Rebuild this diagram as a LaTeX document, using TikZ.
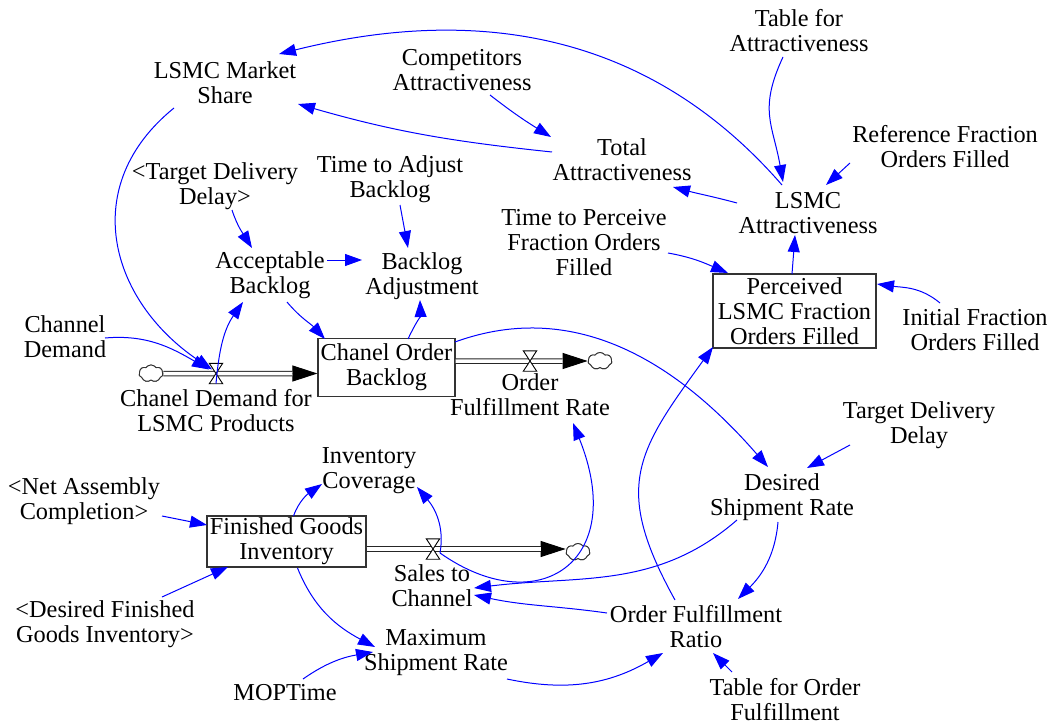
\documentclass[tikz,border=0pt]{standalone}
\usepackage{fontspec}
\setmainfont{Liberation Serif}
\usetikzlibrary{arrows.meta,shapes.symbols}

\begin{document}
\begin{tikzpicture}[x=1pt,y=1pt,
  var/.style={align=center, inner sep=0pt, font=\fontsize{24.3}{25}\selectfont},
  stock/.style={var, draw=black!80, line width=1.2pt, fill=white},
  conn/.style={draw=blue, line width=1pt, -{Triangle[length=17pt,width=12pt]}},
  pipe/.style={draw=black!85, double=white, double distance=3.5pt, line width=1pt},
  pipehead/.style={draw=black, line width=1pt, -{Triangle[length=25pt,width=16pt]}},
  valvebox/.style={minimum width=13pt, minimum height=20pt, inner sep=0pt},
  valveline/.style={draw=black, line width=0.9pt, fill=white},
  sky/.style={cloud, cloud puffs=7, cloud puff arc=110, aspect=1.4, draw=black!80,
    fill=white, line width=0.9pt, minimum width=24pt, minimum height=17pt, inner sep=0pt}
]
\useasboundingbox (0,0) rectangle (1056,-727);
\fill[white] (0,0) rectangle (1056,-727);

% auxiliaries and constants
\node[var] (ms)   at (225,-83)  {LSMC Market\\Share};
\node[var] (comp) at (462,-70)  {Competitors\\Attractiveness};
\node[var] (tabA) at (799,-31)  {Table for\\Attractiveness};
\node[var] (ref)  at (945,-147) {Reference Fraction\\Orders Filled};
\node[var] (tot)  at (622,-160) {Total\\Attractiveness};
\node[var] (attr) at (808,-213) {LSMC\\Attractiveness};
\node[var] (tdd1) at (215,-186) {<Target Delivery\\Delay>};
\node[var] (tab)  at (390,-179) {Time to Adjust\\Backlog};
\node[var] (ttp)  at (584,-243) {Time to Perceive\\Fraction Orders\\Filled};
\node[var] (acc)  at (270,-275) {Acceptable\\Backlog};
\node[var] (badj) at (422,-276) {Backlog\\Adjustment};
\node[var] (ifo)  at (975,-330) {Initial Fraction\\Orders Filled};
\node[var] (cd)   at (65,-337)  {Channel\\Demand};
\node[var] (tdd)  at (919,-425) {Target Delivery\\Delay};
\node[var] (ic)   at (369,-471) {Inventory\\Coverage};
\node[var] (nac)  at (84,-501)  {<Net Assembly\\Completion>};
\node[var] (dsr)  at (782,-497) {Desired\\Shipment Rate};
\node[var] (dfgi) at (105,-624) {<Desired Finished\\Goods Inventory>};
\node[var] (ofrat) at (696,-627) {Order Fulfillment\\Ratio};
\node[var] (msr)  at (436,-653) {Maximum\\Shipment Rate};
\node[var] (mop)  at (285,-693) {MOPTime};
\node[var] (tof)  at (785,-700) {Table for Order\\Fulfillment};

% clouds, valves and flow names
\node[sky] (src)  at (151,-373.5) {};
\node[valvebox] (cdv) at (216,-373.5) {};
\node[var] (cdvl) at (216,-411) {Chanel Demand for\\LSMC Products};
\node[sky] (snk1) at (600,-361) {};
\node[valvebox] (ofv) at (530,-361) {};
\node[var] (ofvl) at (530,-395) {Order\\Fulfillment Rate};
\node[sky] (snk2) at (578,-552) {};
\node[valvebox] (stv) at (433,-549) {};
\node[var] (stvl) at (432,-586) {Sales to\\Channel};

% stocks
\node[stock, minimum width=163pt, minimum height=74pt] (perc) at (794.5,-311) {Perceived\\LSMC Fraction\\Orders Filled};
\node[stock, minimum width=137pt, minimum height=58pt] (cob) at (386.5,-367.5) {Chanel Order\\Backlog};
\node[stock, minimum width=159pt, minimum height=51pt] (fgi) at (286.5,-541.5) {Finished Goods\\Inventory};

% flow pipes
\draw[pipehead] (src.center) -- (src.center -| cob.west);
\draw[pipe, shorten >=25pt] (src.east) -- (src.center -| cob.west);
\draw[pipehead] (ofv.center -| cob.east) -- (snk1.west);
\draw[pipe, shorten >=25pt] (ofv.center -| cob.east) -- (snk1.west);
\draw[pipehead] (stv.center -| fgi.east) -- (stv.center -| snk2.west);
\draw[pipe, shorten >=25pt] (stv.center -| fgi.east) -- (stv.center -| snk2.west);

% redraw clouds over the pipe ends
\node[sky] at (src) {};
\node[sky] at (snk1) {};
\node[sky] at (snk2) {};

% valves
\foreach \v in {cdv,ofv,stv}
  \draw[valveline] (\v.north west) -- (\v.north east) -- (\v.south west) -- (\v.south east) -- cycle;

% causal links
\draw[conn] ([shift={(-26,28)}]attr.center) to[out=131,in=14] ([shift={(54,29)}]ms.center);
\draw[conn] ([shift={(-70,8)}]tot.center) to[out=174,in=-16] ([shift={(73,-21)}]ms.center);
\draw[conn] ([shift={(28,-25)}]comp.center) to[out=-38,in=148] ([shift={(-71,23)}]tot.center);
\draw[conn] ([shift={(-71,10)}]attr.center) to[out=165,in=-15] ([shift={(51,-27)}]tot.center);
\draw[conn] ([shift={(-95,-16)}]ref.center) -- ([shift={(18,28)}]attr.center);
\draw[conn] ([shift={(-16,-26)}]tabA.center) to[out=245,in=100,looseness=1.2] ([shift={(-25,31)}]attr.center);
\draw[conn] ([shift={(-2.5,37)}]perc.center) -- ([shift={(-13,-22)}]attr.center);
\draw[conn] ([shift={(84,-10)}]ttp.center) to[out=-10,in=157] ([shift={(-66.5,38)}]perc.center);
\draw[conn] ([shift={(-35,27)}]ifo.center) to[out=140,in=-8] ([shift={(82.5,27)}]perc.center);
\draw[conn] ([shift={(-21,27)}]ofrat.center) to[out=119,in=234,looseness=1.3] ([shift={(-81.5,-36)}]perc.center);
\draw[conn] ([shift={(-51,-25)}]ms.center) to[out=219,in=146,looseness=1.2] ([shift={(-4,4)}]cdv.center);
\draw[conn] ([shift={(40,-1)}]cd.center) to[out=5,in=150] ([shift={(-7,4)}]cdv.center);
\draw[conn] (cdv.south) to[out=85,in=235] ([shift={(-27,-27)}]acc.center);
\draw[conn] ([shift={(17,-24)}]tdd1.center) to[out=-72,in=122] ([shift={(-18,27)}]acc.center);
\draw[conn] ([shift={(57,15)}]acc.center) -- ([shift={(-60,16)}]badj.center);
\draw[conn] ([shift={(10,-26)}]tab.center) -- ([shift={(-14,28)}]badj.center);
\draw[conn] ([shift={(17,-27)}]acc.center) to[out=-50,in=133] ([shift={(-61.5,28.5)}]cob.center);
\draw[conn] ([shift={(21.5,28.5)}]cob.center) to[out=65,in=-88] ([shift={(-2,-24)}]badj.center);
\draw[conn] ([shift={(68.5,25.5)}]cob.center) to[out=20,in=131] ([shift={(-14,30)}]dsr.center);
\draw[conn] ([shift={(-69,-20)}]tdd.center) -- ([shift={(25,29)}]dsr.center);
\draw[conn] ([shift={(-4,-25)}]dsr.center) to[out=-95,in=45] ([shift={(42,28)}]ofrat.center);
\draw[conn] ([shift={(-45,-23)}]dsr.center) to[out=221,in=7] ([shift={(42,-2)}]stvl.center);
\draw[conn] ([shift={(-89,14)}]ofrat.center) to[out=172,in=-12] ([shift={(42,-9)}]stvl.center);
\draw[conn] ([shift={(7,-4)}]stv.center) .. controls +(98,-69) and +(56,-139) .. ([shift={(43,-28)}]ofvl.center);
\draw[conn] ([shift={(7,-4)}]stv.center) to[out=80,in=-50] ([shift={(48,-16)}]ic.center);
\draw[conn] ([shift={(7,25.5)}]fgi.center) to[out=70,in=215] ([shift={(-47,-13)}]ic.center);
\draw[conn] ([shift={(78,-15)}]nac.center) -- ([shift={(-79.5,16.5)}]fgi.center);
\draw[conn] ([shift={(57,27)}]dfgi.center) -- ([shift={(-58.5,-25.5)}]fgi.center);
\draw[conn] ([shift={(11,-26.5)}]fgi.center) to[out=-68,in=152] ([shift={(-61,6)}]msr.center);
\draw[conn] ([shift={(18,14)}]mop.center) to[out=35,in=190] ([shift={(-63,1)}]msr.center);
\draw[conn] ([shift={(71,-26)}]msr.center) to[out=-12,in=210] ([shift={(-33,-26)}]ofrat.center);
\draw[conn] ([shift={(-53,28)}]tof.center) -- ([shift={(17,-26)}]ofrat.center);
\end{tikzpicture}
\end{document}
